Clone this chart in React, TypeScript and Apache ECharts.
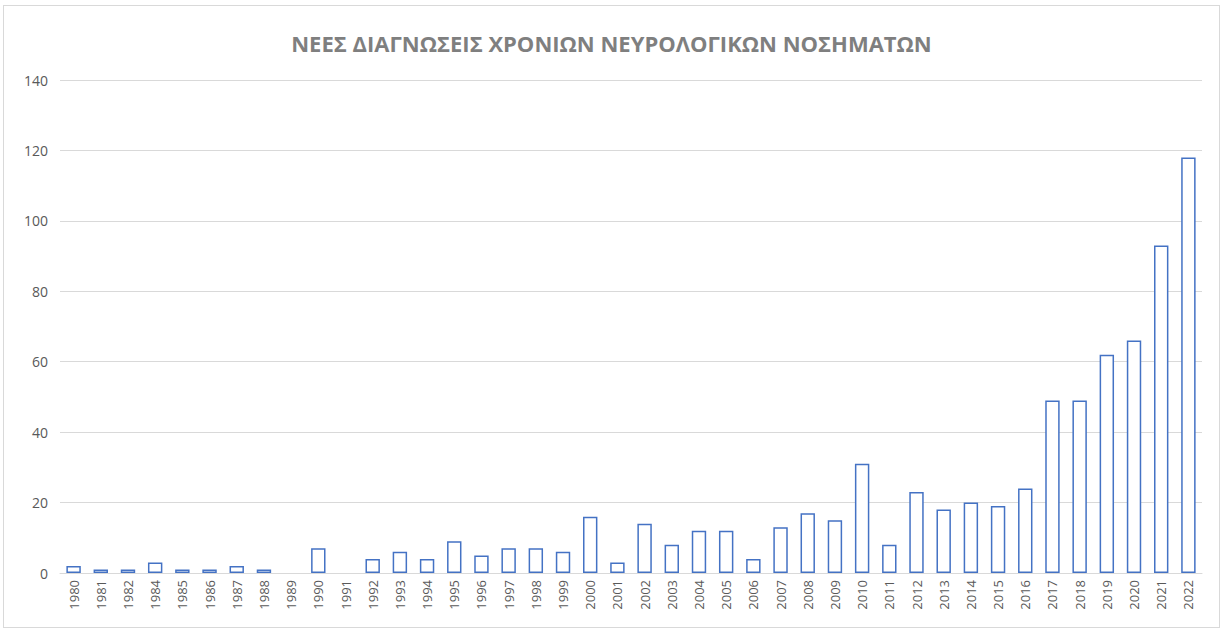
import React, { useEffect, useRef } from "react";
import * as echarts from "echarts";

const titleText = "ΝΕΕΣ ΔΙΑΓΝΩΣΕΙΣ ΧΡΟΝΙΩΝ ΝΕΥΡΟΛΟΓΙΚΩΝ ΝΟΣΗΜΑΤΩΝ";
const years = [
  "1980", "1981", "1982", "1984", "1985", "1986", "1987", "1988", "1989", "1990",
  "1991", "1992", "1993", "1994", "1995", "1996", "1997", "1998", "1999", "2000",
  "2001", "2002", "2003", "2004", "2005", "2006", "2007", "2008", "2009", "2010",
  "2011", "2012", "2013", "2014", "2015", "2016", "2017", "2018", "2019", "2020",
  "2021", "2022",
];
const counts = [
  2, 1, 1, 3, 1, 1, 2, 1, 0, 7,
  0, 4, 6, 4, 9, 5, 7, 7, 6, 16,
  3, 14, 8, 12, 12, 4, 13, 17, 15, 31,
  8, 23, 18, 20, 19, 24, 49, 49, 62, 66,
  93, 118,
];
const yTicks = { min: 0, max: 140, interval: 20 };

export default function App() {
  const ref = useRef<HTMLDivElement>(null);
  useEffect(() => {
    if (!ref.current) return;
    const chart = echarts.init(ref.current, null, { renderer: "svg" });
    chart.setOption({
      animation: false,
      backgroundColor: "#ffffff",
      title: {
        text: titleText,
        left: "center",
        top: 21,
        textStyle: {
          fontFamily: "Open Sans",
          fontSize: 22,
          fontWeight: "bold",
          color: "#7f7f7f",
        },
      },
      grid: { left: 56, right: 17, top: 74, bottom: 54 },
      xAxis: {
        type: "category",
        data: years,
        axisLine: { lineStyle: { color: "#d9d9d9", width: 1 } },
        axisTick: { show: false },
        axisLabel: {
          rotate: 90,
          color: "#595959",
          fontSize: 13,
          fontFamily: "Open Sans",
          margin: 7,
          interval: 0,
        },
      },
      yAxis: {
        type: "value",
        min: yTicks.min,
        max: yTicks.max,
        interval: yTicks.interval,
        axisLine: { show: false },
        axisTick: { show: false },
        splitLine: { lineStyle: { color: "#d9d9d9", width: 1 } },
        axisLabel: {
          color: "#595959",
          fontSize: 14,
          fontFamily: "Open Sans",
          margin: 12,
        },
      },
      series: [
        {
          type: "bar",
          data: counts.map((v) => (v === 0 ? null : v)),
          barWidth: "53%",
          itemStyle: {
            color: "#ffffff",
            borderColor: "#4472c4",
            borderWidth: 1.5,
          },
        },
      ],
    });
    return () => chart.dispose();
  }, []);
  return (
    <div
      style={{
        position: "fixed",
        left: 0,
        top: 0,
        width: 1223,
        height: 632,
        background: "#fff",
      }}
    >
      <div
        ref={ref}
        style={{
          position: "absolute",
          left: 3,
          top: 5,
          width: 1217,
          height: 623,
          border: "1px solid #d9d9d9",
          boxSizing: "border-box",
        }}
      />
    </div>
  );
}
